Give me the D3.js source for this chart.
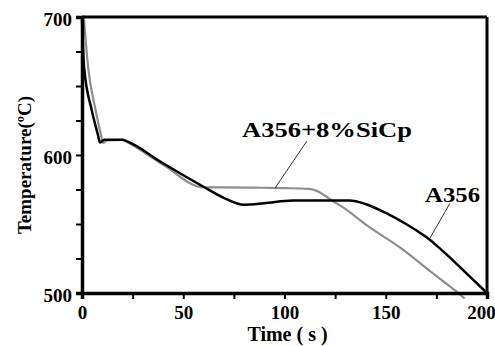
<!DOCTYPE html>
<html>
<head>
<meta charset="utf-8">
<script src="https://cdn.jsdelivr.net/npm/d3@7"></script>
<style>
  body { margin: 0; background: #fff; }
  text { font-family: "Liberation Serif", "DejaVu Serif", serif; font-weight: bold; fill: #000; }
</style>
</head>
<body>
<div id="chart"></div>
<script>
// curve data (time in s, temperature in ºC)
var a356Time = [0, 1, 4.8, 7.9, 8.9, 11, 20, 22, 40, 60, 70, 80, 90, 104, 120, 132, 140, 150, 160, 165, 170, 175, 180, 190, 200];
var a356Temp = [698, 664, 632.6, 614.5, 609, 611, 611, 610, 594, 577, 569, 564, 565, 567, 567, 567, 564.5, 558, 550, 545.5, 540.5, 534.5, 528, 514, 500];

var sicTime = [1, 3, 6.7, 9.4, 10.4, 12.5, 20, 22, 40, 60, 70, 85, 100, 112, 116, 120, 123.5, 130, 140.7, 157, 173, 187, 189];
var sicTemp = [698, 664, 632.6, 614.5, 608.7, 610.5, 611, 609.5, 593, 576.5, 576.5, 576.3, 576, 575.5, 574, 570.5, 567, 561, 549, 533, 514.5, 498.5, 496];

var xTicks = [0, 25, 50, 75, 100, 125, 150, 175, 200];
var yTicks = [500, 525, 550, 575, 600, 625, 650, 675, 700];

// labels with leader lines: text anchor point and leader ends (data units)
var labels = [
  {text: "A356+8%SiCp", t: 79, T: 613, len: 170, from: [111, 610], to: [95.3, 576]},
  {text: "A356", t: 169.4, T: 566, len: 55, from: [181.7, 565], to: [171.9, 540]}
];

// set the dimensions and margins of the graph
var margin = {top: 17, right: 8, bottom: 53, left: 82},
    width = 495 - margin.left - margin.right,
    height = 346 - margin.top - margin.bottom;

var x = d3.scaleLinear().domain([0, 200]).range([0, width]);
var y = d3.scaleLinear().domain([500, 700]).range([height, 0]);

var svg = d3.select("#chart").append("svg")
    .attr("width", 495)
    .attr("height", 346)
  .append("g")
    .attr("transform", "translate(" + margin.left + "," + margin.top + ")");

// frame top and right
svg.append("line")
    .attr("x1", 0).attr("x2", width)
    .attr("y1", 0).attr("y2", 0)
    .style("stroke", "#000").style("stroke-width", 3);
svg.append("line")
    .attr("x1", width).attr("x2", width)
    .attr("y1", 0).attr("y2", height)
    .style("stroke", "#000").style("stroke-width", 3);

var line = d3.line()
    .x(function(d) { return x(d[0]); })
    .y(function(d) { return y(d[1]); })
    .curve(d3.curveMonotoneX);

var sicData = d3.zip(sicTime, sicTemp);
var a356Data = d3.zip(a356Time, a356Temp);

svg.append("path")
    .datum(sicData)
    .attr("d", line)
    .style("fill", "none")
    .style("stroke", "#8e8e8e")
    .style("stroke-width", 2.2);

svg.append("path")
    .datum(a356Data)
    .attr("d", line)
    .style("fill", "none")
    .style("stroke", "#000")
    .style("stroke-width", 2.5);

// X axis
var xAxis = svg.append("g")
    .attr("transform", "translate(0," + height + ")")
    .call(d3.axisBottom(x)
      .tickValues(xTicks)
      .tickSizeOuter(0)
      .tickSize(6)
      .tickPadding(7)
      .tickFormat(function(d) { return d % 50 === 0 ? d : ""; }));

// Y axis
var yAxis = svg.append("g")
    .call(d3.axisLeft(y)
      .tickValues(yTicks)
      .tickSizeOuter(0)
      .tickSize(6)
      .tickPadding(4)
      .tickFormat(function(d) { return d % 100 === 0 ? d : ""; }));

[xAxis, yAxis].forEach(function(a) {
  a.select(".domain").style("stroke", "#000").style("stroke-width", 3.5);
  a.selectAll(".tick line").style("stroke", "#000").style("stroke-width", 2);
  a.selectAll(".tick text")
      .style("font-family", "'Liberation Serif', serif")
      .style("font-weight", "bold")
      .style("font-size", "19px")
      .style("fill", "#000");
});
yAxis.selectAll(".tick text").attr("dy", "0.45em");
xAxis.selectAll(".tick text").filter(function(d) { return d === 200; }).attr("dx", -6);

// axis titles
svg.append("text")
    .attr("x", width / 2 + 3)
    .attr("y", height + 48)
    .attr("text-anchor", "middle")
    .style("font-size", "20px")
    .text("Time ( s )");

svg.append("text")
    .attr("transform", "translate(" + (-51) + "," + 148 + ") rotate(-90)")
    .attr("text-anchor", "middle")
    .style("font-size", "19px")
    .text("Temperature(ºC)");

// curve labels with leader lines
labels.forEach(function(l) {
  svg.append("line")
      .attr("x1", x(l.from[0])).attr("y1", y(l.from[1]))
      .attr("x2", x(l.to[0])).attr("y2", y(l.to[1]))
      .style("stroke", "#333").style("stroke-width", 1);
  svg.append("text")
      .attr("x", x(l.t))
      .attr("y", y(l.T))
      .attr("textLength", l.len)
      .attr("lengthAdjust", "spacingAndGlyphs")
      .style("font-size", "22px")
      .text(l.text);
});
</script>
</body>
</html>
